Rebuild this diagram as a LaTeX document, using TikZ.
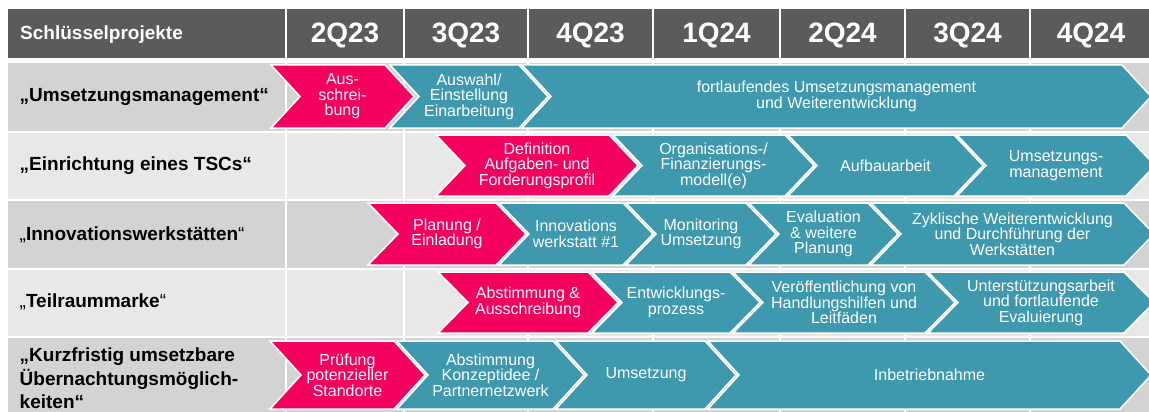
\documentclass[tikz,border=0pt]{standalone}
\usepackage{fontspec}
\setmainfont{Liberation Sans}
\definecolor{hdrgray}{HTML}{5B5B5B}
\definecolor{pinkc}{HTML}{F4005F}
\definecolor{tealc}{HTML}{3E98AE}
\definecolor{banddark}{HTML}{D3D3D3}
\definecolor{bandlight}{HTML}{E8E8E8}

% one chevron step: name, colour, left x, right x, top y, bottom y, depth, text
\newcommand\chevstep[8]{%
  \fill[#2, draw=white, line width=1.5pt, line join=miter]
    (#3,#5) -- (#4,#5) -- ({#4+#7},{(#5+#6)/2}) -- (#4,#6) -- (#3,#6)
    -- ({#3+#7},{(#5+#6)/2}) -- cycle;
  \node[steptext] (#1) at ({(#3+#4)/2+#7/2},{(#5+#6)/2}) {#8};%
}

\tikzset{
  steptext/.style={text=white, align=center, inner sep=0pt,
    font=\fontsize{16}{15.5}\selectfont},
  rowlabel/.style={anchor=west, align=left, inner sep=0pt,
    font=\bfseries\fontsize{19}{23.5}\selectfont},
  quarter/.style={text=white, inner sep=0pt,
    font=\bfseries\fontsize{28}{30}\selectfont},
  sepline/.style={white, line width=1.5pt},
}

\begin{document}
\begin{tikzpicture}[x=1pt, y=-1pt]
\useasboundingbox (0,0) rectangle (1149,412);
\clip (0,0) rectangle (1149,412);

% header band and row bands
\fill[hdrgray] (8,9.5) rectangle (1149,58.5);
\fill[banddark]  (8,63)  rectangle (1149,131);
\fill[bandlight] (8,133) rectangle (1149,199);
\fill[banddark]  (8,201) rectangle (1149,268);
\fill[bandlight] (8,270) rectangle (1149,336);
\fill[banddark]  (8,338) rectangle (1149,420);

% column separators
\foreach \x in {286,404,528,653,780,905,1030}
  \draw[sepline] (\x,9.5) -- (\x,412);

% header texts
\node[anchor=west, text=white, inner sep=0pt,
  font=\bfseries\fontsize{19}{22}\selectfont] (hdr) at (20,34.5) {Schlüsselprojekte};
\node[quarter] (q1) at (345,35)    {2Q23};
\node[quarter] (q2) at (466,35)    {3Q23};
\node[quarter] (q3) at (590.5,35)  {4Q23};
\node[quarter] (q4) at (716.5,35)  {1Q24};
\node[quarter] (q5) at (842.5,35)  {2Q24};
\node[quarter] (q6) at (967.5,35)  {3Q24};
\node[quarter] (q7) at (1091,35)   {4Q24};

% row labels
\node[rowlabel] (l1) at (19.5,97)  {„Umsetzungsmanagement“};
\node[rowlabel] (l2) at (19.5,166) {„Einrichtung eines TSCs“};
\node[rowlabel] (l3) at (19.5,235) {{\mdseries „}Innovationswerkstätten{\mdseries “}};
\node[rowlabel] (l4) at (19.5,302) {{\mdseries „}Teilraummarke{\mdseries “}};
\node[rowlabel] (l5) at (19.5,378.5) {„Kurzfristig umsetzbare\\Übernachtungsmöglich-\\keiten“};

% row 1
\chevstep{a1}{pinkc}{271}{385}{65}{128}{29}{Aus-\\schrei-\\bung}
\chevstep{a2}{tealc}{390}{519}{65}{128}{29}{Auswahl/\\Einstellung\\Einarbeitung}
\chevstep{a3}{tealc}{522}{1122}{65}{128}{29}{fortlaufendes Umsetzungsmanagement\\und Weiterentwicklung}

% row 2
\chevstep{b1}{pinkc}{436}{609}{135}{196}{29}{Definition\\Aufgaben- und\\Forderungsprofil}
\chevstep{b2}{tealc}{613}{785}{135}{196}{29}{Organisations-/\\Finanzierungs-\\modell(e)}
\chevstep{b3}{tealc}{788}{954}{135}{196}{29}{Aufbauarbeit}
\chevstep{b4}{tealc}{957}{1126}{135}{196}{29}{Umsetzungs-\\management}

% row 3
\chevstep{c1}{pinkc}{368}{496}{203}{265}{30}{Planung /\\Einladung}
\chevstep{c2}{tealc}{499}{623}{203}{265}{30}{Innovations\\werkstatt \#1}
\chevstep{c3}{tealc}{626}{746}{203}{265}{30}{Monitoring\\Umsetzung}
\chevstep{c4}{tealc}{749}{868}{203}{265}{30}{Evaluation\\\& weitere\\Planung}
\chevstep{c5}{tealc}{871}{1124}{203}{265}{30}{Zyklische Weiterentwicklung\\und Durchführung der\\Werkstätten}

% row 4
\chevstep{d1}{pinkc}{438}{588}{272}{333}{30}{Abstimmung \&\\Ausschreibung}
\chevstep{d2}{tealc}{592}{730}{272}{333}{30}{Entwicklungs-\\prozess}
\chevstep{d3}{tealc}{733}{925}{272}{333}{30}{Veröffentlichung von\\Handlungshilfen und\\Leitfäden}
\chevstep{d4}{tealc}{928}{1124}{272}{333}{30}{Unterstützungsarbeit\\und fortlaufende\\Evaluierung}

% row 5
\chevstep{e1}{pinkc}{270}{394}{341}{409}{31}{Prüfung\\potenzieller\\Standorte}
\chevstep{e2}{tealc}{397}{553}{341}{409}{31}{Abstimmung\\Konzeptidee /\\Partnernetzwerk}
\chevstep{e3}{tealc}{556}{705}{341}{409}{31}{Umsetzung}
\chevstep{e4}{tealc}{708}{1120}{341}{409}{31}{Inbetriebnahme}
\end{tikzpicture}
\end{document}
